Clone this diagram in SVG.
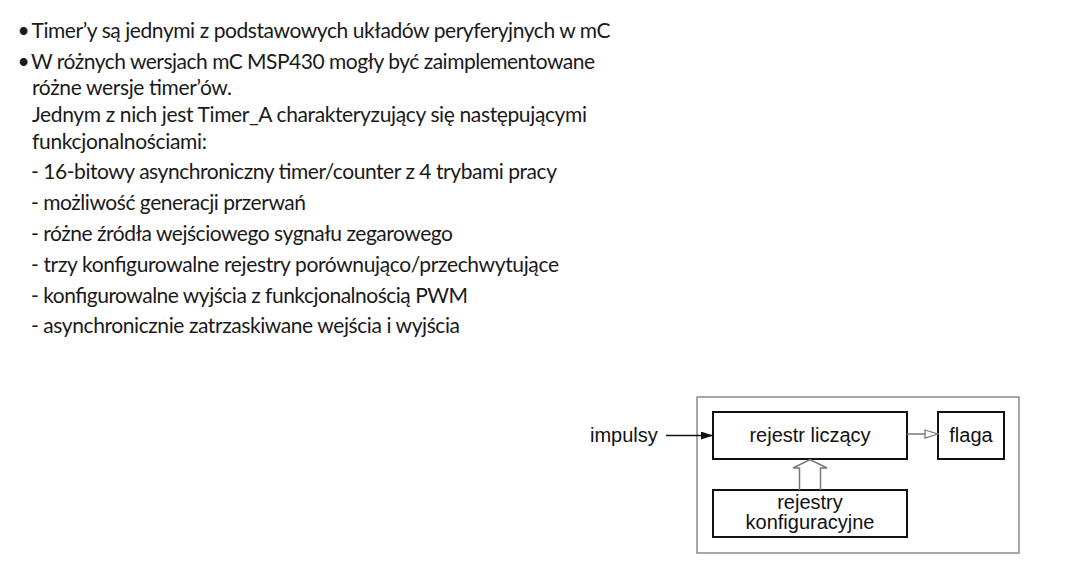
<svg xmlns="http://www.w3.org/2000/svg" width="1079" height="583" viewBox="0 0 1079 583">
<defs>
<style>
.t{font-family:Lato,"Open Sans","Liberation Sans",sans-serif;font-size:21px;fill:#1a1a1a}
.d{font-family:"Liberation Sans",Arial,sans-serif;font-size:20px;fill:#111}
.box{fill:#fff;stroke:#111;stroke-width:2}
.outer{fill:#fff;stroke:#8a8a8a;stroke-width:1.5}
.gl{stroke:#777;stroke-width:1.5;fill:none}
</style>
<marker id="filled" markerWidth="12" markerHeight="8" refX="12" refY="4" orient="auto" markerUnits="userSpaceOnUse">
<path d="M0,0 L12,4 L0,8 Z" fill="#111"/>
</marker>
<marker id="open" markerWidth="15" markerHeight="10" refX="14" refY="5" orient="auto" markerUnits="userSpaceOnUse">
<path d="M1,1 L14,5 L1,9 Z" fill="#fff" stroke="#777" stroke-width="1.3"/>
</marker>
</defs>
<rect width="1079" height="583" fill="#fff"/>
<g id="text-block">
<text class="t" x="23.5" y="38" text-anchor="middle">•</text>
<text class="t" x="31.5" y="38" textLength="579">Timer’y są jednymi z podstawowych układów peryferyjnych w mC</text>
<text class="t" x="23.5" y="69" text-anchor="middle">•</text>
<text class="t" x="31" y="69" textLength="564">W różnych wersjach mC MSP430 mogły być zaimplementowane</text>
<text class="t" x="32" y="95" textLength="200">różne wersje timer’ów.</text>
<text class="t" x="32" y="122" textLength="555">Jednym z nich jest Timer_A charakteryzujący się następującymi</text>
<text class="t" x="32" y="149" textLength="175">funkcjonalnościami:</text>
<text class="t" x="31" y="179" textLength="526">- 16-bitowy asynchroniczny timer/counter z 4 trybami pracy</text>
<text class="t" x="31" y="210" textLength="275">- możliwość generacji przerwań</text>
<text class="t" x="31" y="241" textLength="422">- różne źródła wejściowego sygnału zegarowego</text>
<text class="t" x="31" y="272" textLength="528">- trzy konfigurowalne rejestry porównująco/przechwytujące</text>
<text class="t" x="31" y="303" textLength="437">- konfigurowalne wyjścia z funkcjonalnością PWM</text>
<text class="t" x="31" y="333" textLength="429">- asynchronicznie zatrzaskiwane wejścia i wyjścia</text>
</g>
<g id="timer-frame">
<rect class="outer" x="697" y="397" width="322" height="156"/>
</g>
<g id="impulsy">
<text class="d" x="590" y="442">impulsy</text>
</g>
<g id="rejestr-liczacy">
<rect class="box" x="713" y="412" width="194" height="47"/>
<text class="d" x="810" y="442" text-anchor="middle">rejestr liczący</text>
</g>
<g id="flaga">
<rect class="box" x="938" y="412" width="66" height="47"/>
<text class="d" x="971" y="442" text-anchor="middle">flaga</text>
</g>
<g id="rejestry-konfiguracyjne">
<rect class="box" x="713" y="490" width="194" height="47"/>
<text class="d" x="810" y="509" text-anchor="middle">rejestry</text>
<text class="d" x="810" y="529" text-anchor="middle">konfiguracyjne</text>
</g>
<g id="connectors">
<line x1="666" y1="435.5" x2="713" y2="435.5" stroke="#111" stroke-width="1.5" marker-end="url(#filled)"/>
<line class="gl" x1="907" y1="434" x2="938" y2="434" marker-end="url(#open)"/>
<path class="gl" d="M799.5,490 L799.5,468 L793,468 L810,459.5 L827,468 L820.5,468 L820.5,490" fill="#fff"/>
</g>
</svg>
